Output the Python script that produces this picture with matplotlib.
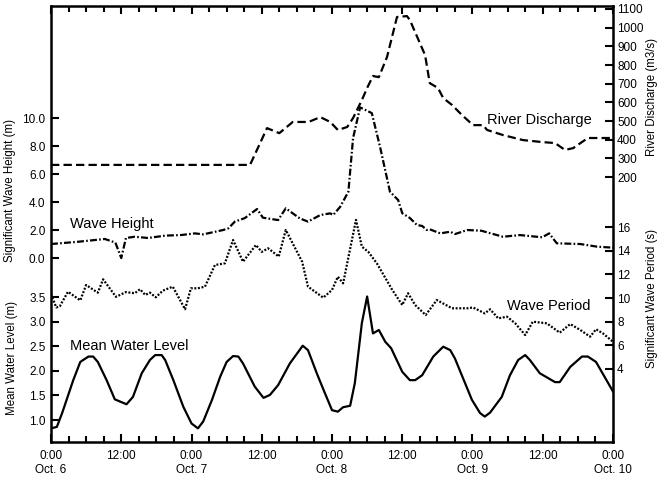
import matplotlib
matplotlib.use("Agg")
import matplotlib.pyplot as plt
from matplotlib.ticker import MultipleLocator, FormatStrFormatter

plt.rcParams['font.family'] = ['Liberation Sans', 'DejaVu Sans']
plt.rcParams['lines.scale_dashes'] = False

# time in hours from Oct. 6 0:00
x_ticks = [0, 12, 24, 36, 48, 60, 72, 84, 96]
x_labels = ["0:00\nOct. 6", "12:00", "0:00\nOct. 7", "12:00", "0:00\nOct. 8",
            "12:00", "0:00\nOct. 9", "12:00", "0:00\nOct. 10"]

# River discharge (m3/s)
q_hours = [0, 34, 36.9, 39, 41.3, 44, 46, 47.7, 49, 50.6, 51.6, 53.1, 54, 55, 56,
           57.4, 59.1, 60.8, 61.3, 63.9, 64.7, 66.1, 67, 68.5, 70.2, 72.1, 73.8,
           74.5, 77.2, 80.6, 84, 86.1, 87.8, 89.2, 91.7, 96]
q_vals = [265, 265, 462, 435, 495, 495, 521, 495, 452, 468, 516, 612, 677, 741, 735,
          843, 1057, 1062, 1041, 853, 703, 677, 623, 586, 532, 478, 478,
          452, 425, 398, 387, 382, 345, 355, 409, 409]

# Significant wave height (m)
h_hours = [0, 4.6, 9.2, 11, 12, 12.8, 14.3, 16.6, 19.5, 22.2, 24.6, 26, 29.4, 30.3,
           31.4, 33.1, 35.2, 36.2, 38.8, 40.1, 42.5, 43.9, 46, 47.7, 48.2, 49.4,
           50.8, 51.6, 52.8, 54.8, 56.2, 57.9, 59.3, 60, 61.3, 62.5, 63.4, 64.2,
           64.7, 66.5, 68.2, 69, 71.1, 73.5, 77.2, 80.1, 83.9, 85.1, 86.4, 90.4,
           93.3, 96]
h_vals = [1.0, 1.16, 1.36, 1.1, 0.0, 1.43, 1.52, 1.43, 1.6, 1.64, 1.76, 1.69, 2.0, 2.12,
          2.6, 2.85, 3.5, 2.88, 2.71, 3.55, 2.83, 2.6, 3.07, 3.19, 3.07, 3.66,
          4.74, 8.57, 10.76, 10.35, 7.95, 4.74, 4.14, 3.2, 2.86, 2.36, 2.29, 2.0,
          2.05, 1.76, 1.88, 1.71, 2.0, 1.95, 1.52, 1.64, 1.48, 1.76, 1.05, 1.0,
          0.81, 0.74]

# Significant wave period (s)
t_hours = [0, 0.9, 1.5, 2.9, 5, 6, 8, 8.9, 11.1, 12.8, 14.3, 15.2, 16.1, 16.9, 17.9,
           19.1, 20.8, 22.9, 23.9, 25.1, 26.3, 28, 29.7, 31.1, 32.8, 35, 36, 37.1,
           38.9, 40.1, 42.9, 43.9, 46.5, 48, 49, 49.9, 52.1, 53.1, 54.2, 55.7, 58.3,
           60, 61, 62.2, 64, 65.9, 68.5, 71.1, 72.1, 74.1, 75, 76.4, 77.9, 79.3, 81,
           82.3, 84.7, 86.9, 88.7, 90.4, 92.1, 93.1, 94.3, 96]
t_vals = [10.34, 9.2, 9.3, 10.53, 9.8, 11.1, 10.45, 11.58, 10.1, 10.5, 10.4, 10.74, 10.26,
          10.45, 10.06, 10.62, 10.96, 9.05, 10.82, 10.82, 10.96, 12.79, 12.93, 14.9,
          13.07, 14.48, 13.9, 14.2, 13.5, 15.75, 13.07, 10.96, 10.03, 10.68, 11.8,
          11.24, 16.6, 14.34, 13.9, 12.9, 10.68, 9.41, 10.4, 9.41, 8.56, 9.83, 9.13,
          9.13, 9.2, 8.7, 9.05, 8.28, 8.42, 7.86, 6.87, 8.0, 7.86, 7.07, 7.8, 7.3,
          6.73, 7.36, 7.0, 6.3]

# Mean water level (m)
m_hours = [0, 1, 1.9, 3.8, 5, 6.4, 7.2, 8, 9.5, 10.9, 12.9, 14, 15.5, 16.9, 17.8, 18.9,
           19.5, 20.9, 22.6, 24, 25.1, 26, 27.5, 28.9, 30, 31.1, 32, 32.8, 34.8, 36.3,
           37.4, 38.8, 40.8, 43, 43.9, 45.4, 46.6, 48, 49, 49.9, 51.1, 51.9, 53.1, 54,
           55, 56, 57.1, 58.1, 60, 61.3, 62.2, 63.4, 65.3, 67, 68.2, 69, 71.9, 73.3,
           74.1, 75, 77, 78.4, 79.8, 81, 81.8, 83.5, 86.1, 86.9, 88.7, 90.7, 91.7,
           93.1, 96]
m_vals = [0.83, 0.86, 1.14, 1.81, 2.18, 2.29, 2.29, 2.18, 1.81, 1.42, 1.32, 1.47, 1.95,
          2.22, 2.32, 2.32, 2.22, 1.81, 1.27, 0.93, 0.83, 0.97, 1.41, 1.88, 2.18, 2.3,
          2.29, 2.15, 1.68, 1.45, 1.51, 1.71, 2.15, 2.51, 2.42, 1.95, 1.6, 1.2, 1.17,
          1.26, 1.29, 1.75, 2.97, 3.51, 2.76, 2.83, 2.59, 2.46, 1.98, 1.81, 1.81, 1.91,
          2.29, 2.49, 2.42, 2.25, 1.41, 1.14, 1.07, 1.15, 1.47, 1.91, 2.22, 2.32, 2.22,
          1.95, 1.77, 1.77, 2.08, 2.29, 2.29, 2.18, 1.58]

fig = plt.figure(figsize=(6.59, 4.78), dpi=100)
ax = fig.add_axes([51 / 659, 1 - 442 / 478, 562 / 659, 436 / 478])
ax_m = ax.twinx()
ax_q = ax.twinx()
ax_t = ax.twinx()

lw = 1.6
ax_q.plot(q_hours, q_vals, color='k', lw=lw, dashes=(6, 3))
ax.plot(h_hours, h_vals, color='k', lw=lw, dashes=(5, 1.6, 1.2, 1.6))
ax_t.plot(t_hours, t_vals, color='k', lw=lw, dashes=(1.4, 1.2))
ax_m.plot(m_hours, m_vals, color='k', lw=lw)

ax.set_xlim(0, 96)
ax.set_ylim(-13.14, 18.0)
ax_m.set_ylim(0.553, 9.415)
ax_q.set_ylim(-1219, 1116)
ax_t.set_ylim(-2.17, 34.68)

ax.set_xticks(x_ticks)
ax.set_xticklabels(x_labels)
ax.xaxis.set_minor_locator(MultipleLocator(3))
ax.tick_params(axis='x', which='both', direction='in', top=True, width=1.5,
               labelsize=8.5, pad=6)
ax.tick_params(axis='x', which='major', length=6)
ax.tick_params(axis='x', which='minor', length=4.5)

ax.set_yticks([0, 2, 4, 6, 8, 10])
ax.yaxis.set_major_formatter(FormatStrFormatter('%.1f'))
ax.tick_params(axis='y', direction='in', length=5.5, width=1.5, labelsize=8.5, pad=4,
               right=False)

ax_m.yaxis.tick_left()
ax_m.set_yticks([1.0, 1.5, 2.0, 2.5, 3.0, 3.5])
ax_m.yaxis.set_major_formatter(FormatStrFormatter('%.1f'))
ax_m.tick_params(axis='y', direction='in', length=5.5, width=1.5, labelsize=8.5, pad=4)

ax_q.set_yticks([200, 300, 400, 500, 600, 700, 800, 900, 1000, 1100])
ax_q.tick_params(axis='y', direction='in', length=5.5, width=1.5, labelsize=8.5, pad=3)

ax_t.set_yticks([4, 6, 8, 10, 12, 14, 16])
ax_t.tick_params(axis='y', direction='in', length=5.5, width=1.5, labelsize=8.5, pad=3)

for a in (ax_m, ax_q, ax_t):
    for s in a.spines.values():
        s.set_visible(False)
for s in ax.spines.values():
    s.set_linewidth(1.8)

# axis labels
fig.text(10 / 659, 1 - 190 / 478, "Significant Wave Height (m)", rotation=90,
         ha='center', va='center', fontsize=8.3)
fig.text(12 / 659, 1 - 358 / 478, "Mean Water Level (m)", rotation=90,
         ha='center', va='center', fontsize=8.3)
fig.text(652 / 659, 1 - 97 / 478, "River Discharge (m3/s)", rotation=90,
         ha='center', va='center', fontsize=8.3)
fig.text(652 / 659, 1 - 298 / 478, "Significant Wave Period (s)", rotation=90,
         ha='center', va='center', fontsize=8.3)

# series labels
ax.text(3.2, 2.4, "Wave Height", fontsize=10.5, va='center')
ax_q.text(74.5, 505, "River Discharge", fontsize=10.5, va='center')
ax_t.text(77.9, 9.3, "Wave Period", fontsize=10.5, va='center')
ax_m.text(3.2, 2.5, "Mean Water Level", fontsize=10.5, va='center')

fig.savefig("out.png", dpi=100)
